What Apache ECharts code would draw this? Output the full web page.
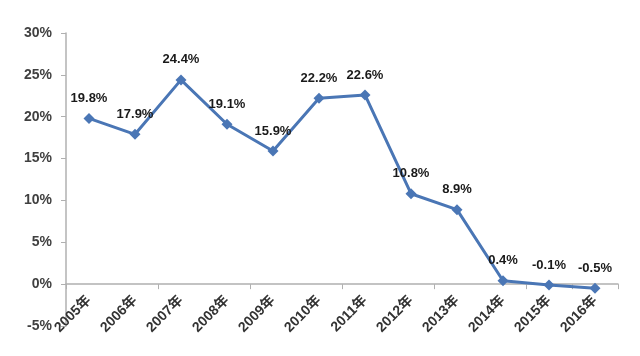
<!DOCTYPE html>
<html><head><meta charset="utf-8">
<script src="https://cdn.jsdelivr.net/npm/echarts@6/dist/echarts.min.js"></script>
<style>html,body{margin:0;padding:0;background:#fff}#c{width:640px;height:356px}</style>
</head><body><div id="c"></div>
<script>
const categories = ['2005年','2006年','2007年','2008年','2009年','2010年','2011年','2012年','2013年','2014年','2015年','2016年'];
const values = [19.8, 17.9, 24.4, 19.1, 15.9, 22.2, 22.6, 10.8, 8.9, 0.4, -0.1, -0.5];
const yTicks = { min: -5, max: 30, interval: 5 };

const gridTop = 33, gridBottom = 30, H = 356;
const plotH = H - gridTop - gridBottom;
// shift the category axis up so it sits on the 0% line
const zeroOffset = -plotH * (0 - yTicks.min) / (yTicks.max - yTicks.min);

const chart = echarts.init(document.getElementById('c'));
chart.setOption({
  animation: false,
  backgroundColor: '#fff',
  grid: { left: 66, right: 22, top: gridTop, bottom: gridBottom, containLabel: false, outerBoundsMode: 'none' },
  xAxis: {
    type: 'category',
    data: categories,
    boundaryGap: true,
    offset: zeroOffset,
    axisLine: { onZero: false, lineStyle: { color: '#b0b0b0', width: 1.5 } },
    axisTick: { show: true, interval: 1, length: 5, lineStyle: { color: '#b0b0b0' } },
    axisLabel: {
      rotate: 45, interval: 0, margin: 14,
      color: '#333', fontSize: 14, fontWeight: 'bold',
      fontFamily: '"Liberation Sans", "Noto Sans CJK SC", sans-serif'
    }
  },
  yAxis: {
    type: 'value',
    min: yTicks.min, max: yTicks.max, interval: yTicks.interval,
    splitLine: { show: false },
    axisLine: { show: true, lineStyle: { color: '#b0b0b0', width: 1.5 } },
    axisTick: { show: true, length: 5, lineStyle: { color: '#b0b0b0' } },
    axisLabel: {
      formatter: '{value}%', margin: 14,
      color: '#404040', fontSize: 14, fontWeight: 'bold',
      fontFamily: '"Liberation Sans", sans-serif'
    }
  },
  series: [{
    type: 'line',
    data: values,
    symbol: 'diamond',
    symbolSize: 11,
    lineStyle: { color: '#4a76b5', width: 3 },
    itemStyle: { color: '#4a76b5' },
    label: {
      show: true, position: 'top', distance: 8,
      formatter: p => p.value + '%',
      color: '#1a1a1a', fontSize: 13, fontWeight: 'bold',
      fontFamily: '"Liberation Sans", sans-serif'
    }
  }]
});
</script></body></html>
